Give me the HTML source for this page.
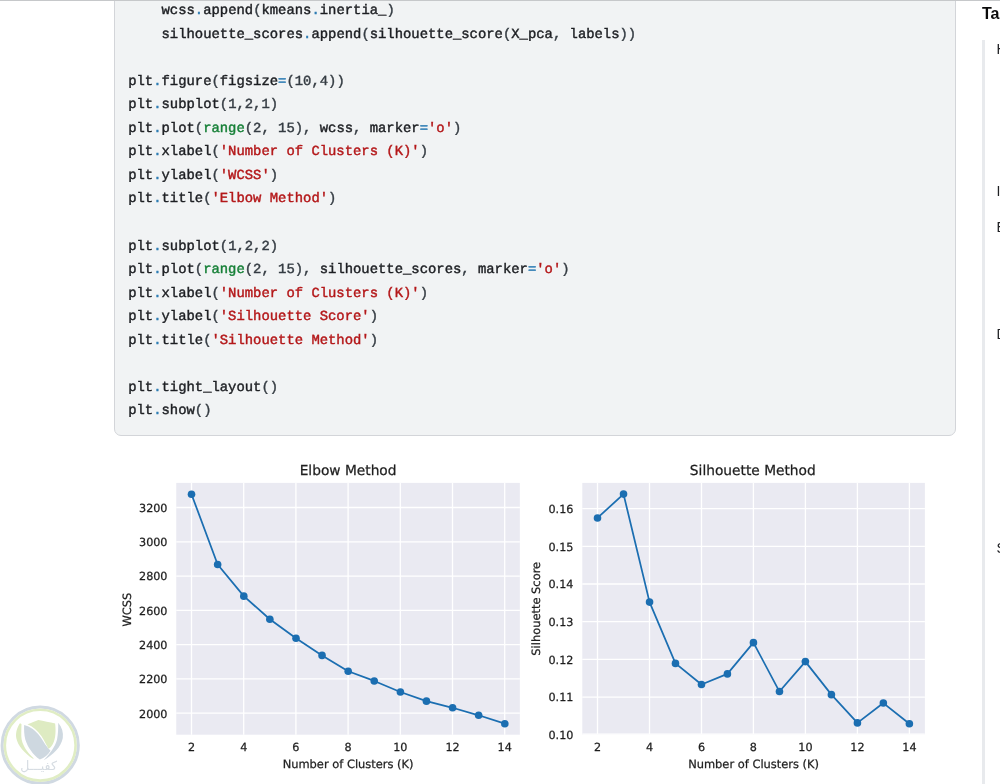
<!DOCTYPE html>
<html lang="en">
<head>
<meta charset="utf-8">
<title>K-Means Elbow and Silhouette</title>
<style>
html,body{margin:0;padding:0;background:#fff;}
body{position:relative;width:1000px;height:784px;overflow:hidden;font-family:"Liberation Sans",sans-serif;color:#202124;}
.topline{position:absolute;left:0;top:0;width:1000px;height:1px;background:#c6c8ca;z-index:5;}
.codebox{position:absolute;left:114px;top:-40px;width:840px;height:473.6px;background:#f1f3f4;border:1px solid #d3d5d9;border-radius:0 0 7px 7px;}
.code{position:absolute;left:0;top:0;}
.code text{font-family:"Liberation Mono",monospace;font-size:13.88px;fill:#1d1f23;stroke:#1d1f23;stroke-width:0.42px;white-space:pre;text-rendering:geometricPrecision;}
.o{fill:#2f7db4;stroke:#2f7db4;}
.n,.p{fill:#353c43;stroke:#353c43;}
.s{fill:#b4181a;stroke:#b4181a;}
.b{fill:#178038;stroke:#178038;}
.fig,.logo{position:absolute;left:0;top:0;}
.logo{top:704px;}
.fig text{text-rendering:geometricPrecision;font-family:"DejaVu Sans","Liberation Sans",sans-serif;fill:#1e1e1e;stroke:#1e1e1e;stroke-width:0.25px;}
.tk{font-size:11.2px;}
.lb{font-size:11.45px;}
.tt{font-size:13.75px;}
.ar{font-family:"DejaVu Sans","Liberation Sans",sans-serif;font-size:12.5px;fill:#d6dce2;}
.toc{position:absolute;left:982px;top:40px;width:3px;height:760px;background:#e8eaed;}
.tochead{position:absolute;left:982px;top:3.6px;font-weight:700;font-size:16px;line-height:20px;white-space:nowrap;color:#0a0a0a;}
.ti{position:absolute;left:996.6px;font-size:14px;line-height:16px;white-space:nowrap;color:#202124;}
</style>
</head>
<body>
<div class="topline"></div>
<div class="codebox"></div>
<svg class="code" width="1000" height="440" viewBox="0 0 1000 440">
<text x="161.52" y="14.00">wcss<tspan class="o">.</tspan>append<tspan class="p">(</tspan>kmeans<tspan class="o">.</tspan>inertia_<tspan class="p">)</tspan></text>
<text x="161.52" y="37.55">silhouette_scores<tspan class="o">.</tspan>append<tspan class="p">(</tspan>silhouette_score<tspan class="p">(</tspan>X_pca<tspan class="p">,</tspan> labels<tspan class="p">))</tspan></text>
<text x="128.20" y="84.65">plt<tspan class="o">.</tspan>figure<tspan class="p">(</tspan>figsize<tspan class="o">=</tspan><tspan class="p">(</tspan><tspan class="n">10</tspan><tspan class="p">,</tspan><tspan class="n">4</tspan><tspan class="p">))</tspan></text>
<text x="128.20" y="108.20">plt<tspan class="o">.</tspan>subplot<tspan class="p">(</tspan><tspan class="n">1</tspan><tspan class="p">,</tspan><tspan class="n">2</tspan><tspan class="p">,</tspan><tspan class="n">1</tspan><tspan class="p">)</tspan></text>
<text x="128.20" y="131.75">plt<tspan class="o">.</tspan>plot<tspan class="p">(</tspan><tspan class="b">range</tspan><tspan class="p">(</tspan><tspan class="n">2</tspan><tspan class="p">,</tspan> <tspan class="n">15</tspan><tspan class="p">),</tspan> wcss<tspan class="p">,</tspan> marker<tspan class="o">=</tspan><tspan class="s">&#x27;o&#x27;</tspan><tspan class="p">)</tspan></text>
<text x="128.20" y="155.30">plt<tspan class="o">.</tspan>xlabel<tspan class="p">(</tspan><tspan class="s">&#x27;Number of Clusters (K)&#x27;</tspan><tspan class="p">)</tspan></text>
<text x="128.20" y="178.85">plt<tspan class="o">.</tspan>ylabel<tspan class="p">(</tspan><tspan class="s">&#x27;WCSS&#x27;</tspan><tspan class="p">)</tspan></text>
<text x="128.20" y="202.40">plt<tspan class="o">.</tspan>title<tspan class="p">(</tspan><tspan class="s">&#x27;Elbow Method&#x27;</tspan><tspan class="p">)</tspan></text>
<text x="128.20" y="249.50">plt<tspan class="o">.</tspan>subplot<tspan class="p">(</tspan><tspan class="n">1</tspan><tspan class="p">,</tspan><tspan class="n">2</tspan><tspan class="p">,</tspan><tspan class="n">2</tspan><tspan class="p">)</tspan></text>
<text x="128.20" y="273.05">plt<tspan class="o">.</tspan>plot<tspan class="p">(</tspan><tspan class="b">range</tspan><tspan class="p">(</tspan><tspan class="n">2</tspan><tspan class="p">,</tspan> <tspan class="n">15</tspan><tspan class="p">),</tspan> silhouette_scores<tspan class="p">,</tspan> marker<tspan class="o">=</tspan><tspan class="s">&#x27;o&#x27;</tspan><tspan class="p">)</tspan></text>
<text x="128.20" y="296.60">plt<tspan class="o">.</tspan>xlabel<tspan class="p">(</tspan><tspan class="s">&#x27;Number of Clusters (K)&#x27;</tspan><tspan class="p">)</tspan></text>
<text x="128.20" y="320.15">plt<tspan class="o">.</tspan>ylabel<tspan class="p">(</tspan><tspan class="s">&#x27;Silhouette Score&#x27;</tspan><tspan class="p">)</tspan></text>
<text x="128.20" y="343.70">plt<tspan class="o">.</tspan>title<tspan class="p">(</tspan><tspan class="s">&#x27;Silhouette Method&#x27;</tspan><tspan class="p">)</tspan></text>
<text x="128.20" y="390.80">plt<tspan class="o">.</tspan>tight_layout<tspan class="p">()</tspan></text>
<text x="128.20" y="414.35">plt<tspan class="o">.</tspan>show<tspan class="p">()</tspan></text>
</svg>
<svg class="fig" width="1000" height="784" viewBox="0 0 1000 784">
<rect x="176.25" y="482.9" width="343.6" height="251.8" fill="#eaeaf2"/>
<path d="M191.5 482.9V734.7M243.7 482.9V734.7M295.9 482.9V734.7M348.1 482.9V734.7M400.3 482.9V734.7M452.5 482.9V734.7M504.7 482.9V734.7M176.25 713.2H519.9M176.25 678.9H519.9M176.25 644.6H519.9M176.25 610.4H519.9M176.25 576.1H519.9M176.25 541.8H519.9M176.25 507.5H519.9" stroke="#fff" stroke-width="1.3" fill="none"/>
<polyline points="191.50,494.20 217.65,564.49 243.80,596.13 269.85,619.26 296.00,638.19 322.05,655.41 348.20,671.23 374.25,680.94 400.40,691.96 426.45,701.17 452.60,707.78 478.65,715.29 504.80,723.70" fill="none" stroke="#1b6eb1" stroke-width="1.75" stroke-linejoin="round"/>
<circle cx="191.50" cy="494.20" r="3.8" fill="#1b6eb1"/>
<circle cx="217.65" cy="564.49" r="3.8" fill="#1b6eb1"/>
<circle cx="243.80" cy="596.13" r="3.8" fill="#1b6eb1"/>
<circle cx="269.85" cy="619.26" r="3.8" fill="#1b6eb1"/>
<circle cx="296.00" cy="638.19" r="3.8" fill="#1b6eb1"/>
<circle cx="322.05" cy="655.41" r="3.8" fill="#1b6eb1"/>
<circle cx="348.20" cy="671.23" r="3.8" fill="#1b6eb1"/>
<circle cx="374.25" cy="680.94" r="3.8" fill="#1b6eb1"/>
<circle cx="400.40" cy="691.96" r="3.8" fill="#1b6eb1"/>
<circle cx="426.45" cy="701.17" r="3.8" fill="#1b6eb1"/>
<circle cx="452.60" cy="707.78" r="3.8" fill="#1b6eb1"/>
<circle cx="478.65" cy="715.29" r="3.8" fill="#1b6eb1"/>
<circle cx="504.80" cy="723.70" r="3.8" fill="#1b6eb1"/>
<text x="191.5" y="751.4" text-anchor="middle" class="tk">2</text>
<text x="243.7" y="751.4" text-anchor="middle" class="tk">4</text>
<text x="295.9" y="751.4" text-anchor="middle" class="tk">6</text>
<text x="348.1" y="751.4" text-anchor="middle" class="tk">8</text>
<text x="400.3" y="751.4" text-anchor="middle" class="tk">10</text>
<text x="452.5" y="751.4" text-anchor="middle" class="tk">12</text>
<text x="504.7" y="751.4" text-anchor="middle" class="tk">14</text>
<text x="167.5" y="717.5" text-anchor="end" class="tk">2000</text>
<text x="167.5" y="683.2" text-anchor="end" class="tk">2200</text>
<text x="167.5" y="648.9" text-anchor="end" class="tk">2400</text>
<text x="167.5" y="614.6" text-anchor="end" class="tk">2600</text>
<text x="167.5" y="580.3" text-anchor="end" class="tk">2800</text>
<text x="167.5" y="546.1" text-anchor="end" class="tk">3000</text>
<text x="167.5" y="511.8" text-anchor="end" class="tk">3200</text>
<text x="348.1" y="475.0" text-anchor="middle" class="tt">Elbow Method</text>
<text x="348.1" y="768.1" text-anchor="middle" class="lb">Number of Clusters (K)</text>
<text transform="translate(130.7 609.7) rotate(-90)" text-anchor="middle" class="lb">WCSS</text>
<rect x="582.3" y="482.9" width="342.6" height="251.8" fill="#eaeaf2"/>
<path d="M597.5 482.9V734.7M649.5 482.9V734.7M701.5 482.9V734.7M753.4 482.9V734.7M805.4 482.9V734.7M857.4 482.9V734.7M909.4 482.9V734.7M582.3 734.2H924.9M582.3 697.1H924.9M582.3 659.4H924.9M582.3 621.7H924.9M582.3 584.0H924.9M582.3 546.3H924.9M582.3 508.6H924.9" stroke="#fff" stroke-width="1.3" fill="none"/>
<polyline points="597.50,517.94 623.52,494.10 649.55,602.09 675.47,663.40 701.49,684.53 727.41,673.91 753.44,642.66 779.46,691.54 805.38,661.59 831.41,694.65 857.43,722.90 883.35,703.06 909.38,723.80" fill="none" stroke="#1b6eb1" stroke-width="1.75" stroke-linejoin="round"/>
<circle cx="597.50" cy="517.94" r="3.8" fill="#1b6eb1"/>
<circle cx="623.52" cy="494.10" r="3.8" fill="#1b6eb1"/>
<circle cx="649.55" cy="602.09" r="3.8" fill="#1b6eb1"/>
<circle cx="675.47" cy="663.40" r="3.8" fill="#1b6eb1"/>
<circle cx="701.49" cy="684.53" r="3.8" fill="#1b6eb1"/>
<circle cx="727.41" cy="673.91" r="3.8" fill="#1b6eb1"/>
<circle cx="753.44" cy="642.66" r="3.8" fill="#1b6eb1"/>
<circle cx="779.46" cy="691.54" r="3.8" fill="#1b6eb1"/>
<circle cx="805.38" cy="661.59" r="3.8" fill="#1b6eb1"/>
<circle cx="831.41" cy="694.65" r="3.8" fill="#1b6eb1"/>
<circle cx="857.43" cy="722.90" r="3.8" fill="#1b6eb1"/>
<circle cx="883.35" cy="703.06" r="3.8" fill="#1b6eb1"/>
<circle cx="909.38" cy="723.80" r="3.8" fill="#1b6eb1"/>
<text x="597.5" y="751.4" text-anchor="middle" class="tk">2</text>
<text x="649.5" y="751.4" text-anchor="middle" class="tk">4</text>
<text x="701.5" y="751.4" text-anchor="middle" class="tk">6</text>
<text x="753.4" y="751.4" text-anchor="middle" class="tk">8</text>
<text x="805.4" y="751.4" text-anchor="middle" class="tk">10</text>
<text x="857.4" y="751.4" text-anchor="middle" class="tk">12</text>
<text x="909.4" y="751.4" text-anchor="middle" class="tk">14</text>
<text x="573.4" y="739.0" text-anchor="end" class="tk">0.10</text>
<text x="573.4" y="701.3" text-anchor="end" class="tk">0.11</text>
<text x="573.4" y="663.6" text-anchor="end" class="tk">0.12</text>
<text x="573.4" y="625.9" text-anchor="end" class="tk">0.13</text>
<text x="573.4" y="588.2" text-anchor="end" class="tk">0.14</text>
<text x="573.4" y="550.5" text-anchor="end" class="tk">0.15</text>
<text x="573.4" y="512.8" text-anchor="end" class="tk">0.16</text>
<text x="752.8" y="475.0" text-anchor="middle" class="tt">Silhouette Method</text>
<text x="753.6" y="768.1" text-anchor="middle" class="lb">Number of Clusters (K)</text>
<text transform="translate(540.2 608.8) rotate(-90)" text-anchor="middle" class="lb">Silhouette Score</text>
</svg>
<svg class="logo" width="82" height="82" viewBox="0 0 82 82">
<circle cx="40.2" cy="41.2" r="38.1" fill="#fff" stroke="#d0d9e2" stroke-width="3"/>
<circle cx="40.2" cy="41.2" r="35.4" fill="none" stroke="#e0edc4" stroke-width="2.6"/>
<g transform="translate(10 11) scale(0.07651)">
<path d="M130,108 C95,160 70,230 82,300 C100,400 190,500 300,572 L312,570 C220,480 150,380 148,280 C146,220 150,160 150,118 Z" fill="#deebc2"/>
<path d="M185,130 C260,150 340,200 400,290 C440,350 480,420 530,468 C500,520 450,560 390,582 C300,520 230,420 200,320 C185,260 182,190 185,130 Z" fill="#ced8e0"/>
<path d="M228,122 C280,100 330,80 370,65 C440,80 520,95 590,110 C600,200 600,300 560,380 C545,410 525,430 503,442 C470,380 440,320 410,275 C360,205 300,150 228,122 Z" fill="#deebc2"/>
<path d="M630,100 C680,160 700,230 690,300 C670,420 560,520 440,592 C520,500 590,420 615,320 C628,250 632,170 630,100 Z" fill="#ced8e0"/>
</g>
<text x="38.6" y="66.2" text-anchor="middle" class="ar">كفيـــل</text>
</svg>
<div class="tochead">Table of contents</div>
<div class="toc"></div>
<div class="ti" style="top:40.7px">How it works</div>
<div class="ti" style="top:183.2px">Implementation</div>
<div class="ti" style="top:219.2px">Elbow method</div>
<div class="ti" style="top:325.8px">Determining K</div>
<div class="ti" style="top:539.7px">Silhouette score</div>
</body>
</html>
